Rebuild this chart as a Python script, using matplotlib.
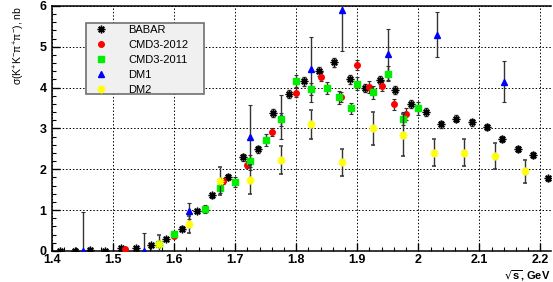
import numpy as np
import matplotlib
matplotlib.use("Agg")
import matplotlib.pyplot as plt
from matplotlib.ticker import MultipleLocator
from matplotlib.patches import Rectangle

plt.rcParams['font.family'] = ['Liberation Sans', 'DejaVu Sans']

# BABAR
babar_x = [1.4125, 1.4375, 1.4625, 1.4875, 1.5125, 1.5375, 1.5625, 1.5875, 1.6125,
           1.6375, 1.6625, 1.6875, 1.7125, 1.7375, 1.7625, 1.7875, 1.8125, 1.8375,
           1.8625, 1.8875, 1.9125, 1.9375, 1.9625, 1.9875, 2.0125, 2.0375, 2.0625,
           2.0875, 2.1125, 2.1375, 2.1625, 2.1875, 2.2125]
babar_y = [0.01, 0.01, 0.02, 0.01, 0.07, 0.07, 0.14, 0.30, 0.55,
           0.98, 1.36, 1.81, 2.29, 2.49, 3.37, 3.85, 4.16, 4.40,
           4.62, 4.20, 3.99, 4.18, 3.94, 3.60, 3.40, 3.10, 3.24,
           3.15, 3.03, 2.74, 2.49, 2.35, 1.78]
babar_e = [0.01, 0.01, 0.01, 0.01, 0.02, 0.02, 0.03, 0.04, 0.05,
           0.06, 0.07, 0.08, 0.09, 0.09, 0.10, 0.10, 0.11, 0.11,
           0.11, 0.10, 0.10, 0.10, 0.10, 0.09, 0.09, 0.08, 0.08,
           0.08, 0.08, 0.07, 0.07, 0.07, 0.06]

# CMD3-2012
c12_x = [1.52, 1.60, 1.68, 1.72, 1.76, 1.80, 1.84, 1.873, 1.90, 1.92, 1.94, 1.96, 1.98]
c12_y = [0.05, 0.37, 1.71, 2.11, 2.92, 3.88, 4.27, 3.77, 4.56, 4.02, 4.04, 3.59, 3.35]
c12_e = [0.03, 0.05, 0.08, 0.09, 0.10, 0.12, 0.12, 0.12, 0.12, 0.14, 0.13, 0.14, 0.14]

# CMD3-2011
c11_x = [1.575, 1.60, 1.65, 1.675, 1.70, 1.725, 1.75, 1.775, 1.80, 1.825, 1.85,
         1.87, 1.89, 1.90, 1.925, 1.95, 1.975, 2.00]
c11_y = [0.18, 0.41, 1.03, 1.54, 1.69, 2.20, 2.72, 3.22, 4.16, 3.96, 3.99,
         3.76, 3.49, 4.10, 3.89, 4.34, 3.24, 3.49]
c11_e = [0.04, 0.06, 0.10, 0.12, 0.12, 0.14, 0.14, 0.15, 0.15, 0.15, 0.15,
         0.15, 0.14, 0.15, 0.16, 0.18, 0.16, 0.15]

# DM1
dm1_x = [1.45, 1.55, 1.625, 1.725, 1.775, 1.825, 1.875, 1.95, 2.03, 2.14]
dm1_y = [0.0, 0.0, 0.98, 2.78, 3.28, 4.45, 5.89, 4.83, 5.30, 4.14]
dm1_lo = [0.0, 0.0, 0.20, 0.80, 0.53, 0.80, 1.00, 0.65, 0.55, 0.50]
dm1_hi = [0.95, 0.45, 0.20, 0.80, 0.53, 0.80, 1.00, 0.60, 0.55, 0.50]

# DM2
dm2_x = [1.575, 1.625, 1.675, 1.725, 1.775, 1.825, 1.875, 1.925, 1.975,
         2.025, 2.075, 2.125, 2.175]
dm2_y = [0.18, 0.65, 1.72, 1.75, 2.23, 3.10, 2.17, 3.00, 2.84,
         2.41, 2.41, 2.33, 1.95]
dm2_e = [0.20, 0.20, 0.34, 0.35, 0.35, 0.35, 0.33, 0.40, 0.52,
         0.32, 0.32, 0.32, 0.28]

fig = plt.figure(figsize=(5.53, 2.82), dpi=100)
ax = fig.add_axes([0.094, 0.110, 0.902, 0.869])

err_kw = dict(ls='none', ecolor='#333333', elinewidth=1.0, capsize=1.5, capthick=0.8)

ax.errorbar(dm1_x, dm1_y, yerr=[dm1_lo, dm1_hi], marker='^', ms=4.2, color='#0000ff',
            mec='#0000ff', label='DM1', zorder=3, **err_kw)
ax.errorbar(dm2_x, dm2_y, yerr=dm2_e, marker=(8, 2, 0), ms=5.5, color='#ffff00',
            mec='#ffff00', mew=1.1, label='DM2', zorder=6, **err_kw)
ax.errorbar(babar_x, babar_y, yerr=babar_e, marker=(8, 2, 0), ms=5.5, color='black',
            mec='black', mew=1.0, label='BABAR', zorder=4, **err_kw)
ax.errorbar(c12_x, c12_y, yerr=c12_e, marker='o', ms=4.0, color='#ff0000',
            mec='#ff0000', label='CMD3-2012', zorder=4, **err_kw)
ax.errorbar(c11_x, c11_y, yerr=c11_e, marker='s', ms=4.2, color='#00ee00',
            mec='#00ee00', label='CMD3-2011', zorder=5, **err_kw)

ax.set_xlim(1.4, 2.217)
ax.set_ylim(0, 6)

ax.xaxis.set_major_locator(MultipleLocator(0.1))
ax.xaxis.set_minor_locator(MultipleLocator(0.02))
ax.yaxis.set_major_locator(MultipleLocator(1))
ax.yaxis.set_minor_locator(MultipleLocator(0.2))
ax.xaxis.set_major_formatter(plt.FuncFormatter(
    lambda v, p: '%d' % round(v) if abs(v - round(v)) < 1e-6 else '%.1f' % v))
ax.tick_params(direction='in', which='major', length=6, width=1.0, top=False, right=False,
               labelsize=9)
ax.tick_params(direction='in', which='minor', length=3, width=0.8, top=False, right=False)
for lab in ax.get_xticklabels() + ax.get_yticklabels():
    lab.set_fontweight('bold')
ax.tick_params(axis='x', pad=2.5)
ax.tick_params(axis='y', pad=4)

ax.grid(True, which='major', ls=(0, (1.5, 2)), color='black', lw=0.7)
ax.set_axisbelow(True)
for s in ['left', 'bottom', 'top']:
    ax.spines[s].set_linewidth(1.1)
ax.spines['right'].set_visible(False)

ax.set_ylabel(r'$\mathregular{\sigma(K^{+}K^{-}\pi^{+}\pi^{-})}$, nb', fontsize=7.5,
              loc='top', labelpad=9)
ax.set_xlabel(r'$\mathregular{\sqrt{s}}$, GeV', fontsize=8, fontweight='bold', loc='right',
              labelpad=1)

# legend box drawn by hand so its size can follow the reference
box = Rectangle((86 / 553, 1 - 94 / 282), 118 / 553, 71 / 282, transform=fig.transFigure,
                facecolor='#f0f0f0', edgecolor='#707070', lw=1.2, zorder=9, clip_on=False)
ax.add_patch(box)

h, l = ax.get_legend_handles_labels()
order = ['BABAR', 'CMD3-2012', 'CMD3-2011', 'DM1', 'DM2']
hh = [h[l.index(n)][0] for n in order]
leg = ax.legend(hh, order, loc='upper left',
                bbox_to_anchor=(93 / 553, 1 - 23 / 282), bbox_transform=fig.transFigure,
                fontsize=8, frameon=False, labelspacing=0.45,
                handlelength=1.0, handletextpad=2.0, borderpad=0.2, borderaxespad=0)
leg.set_zorder(10)

fig.savefig('out.png', dpi=100)
